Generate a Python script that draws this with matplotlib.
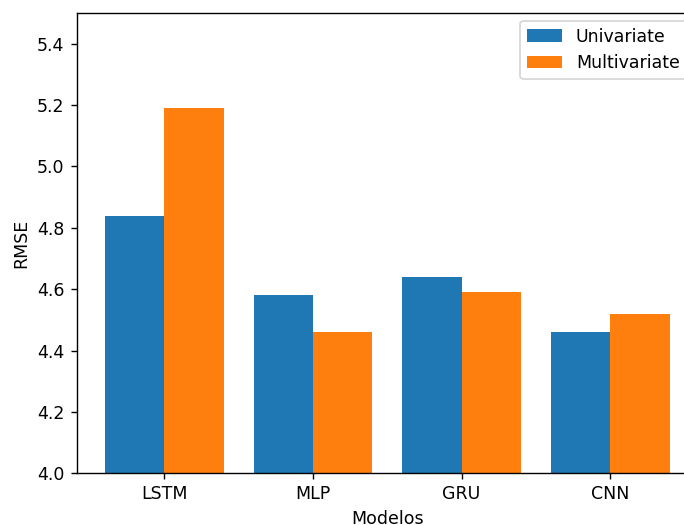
import numpy as np
import matplotlib
matplotlib.use("Agg")
import matplotlib.pyplot as plt

models = ["LSTM", "MLP", "GRU", "CNN"]
univariate = [4.84, 4.58, 4.64, 4.46]
multivariate = [5.19, 4.46, 4.59, 4.52]

W, H = 684, 525
DPI = 125
fig = plt.figure(figsize=(W / DPI, H / DPI), dpi=DPI)
left, right, bottom, top = 76.7, 697.8, 473.3, 13.0
ax = fig.add_axes([left / W, 1 - bottom / H, (right - left) / W, (bottom - top) / H])

x = np.arange(len(models))
width = 0.4
ax.bar(x - width / 2, univariate, width, label="Univariate", color="#1f77b4")
ax.bar(x + width / 2, multivariate, width, label="Multivariate", color="#ff7f0e")

ax.set_xticks(x)
ax.set_xticklabels(models)
ax.set_ylim(4.0, 5.5)
ax.set_yticks([4.0, 4.2, 4.4, 4.6, 4.8, 5.0, 5.2, 5.4])
ax.set_xlabel("Modelos")
ax.set_ylabel("RMSE")
ax.legend(loc="upper right",
          bbox_to_anchor=(1 - 2.5 / (right - left), 1 + 1.0 / (bottom - top)))

fig.savefig("out.png", dpi=DPI)
